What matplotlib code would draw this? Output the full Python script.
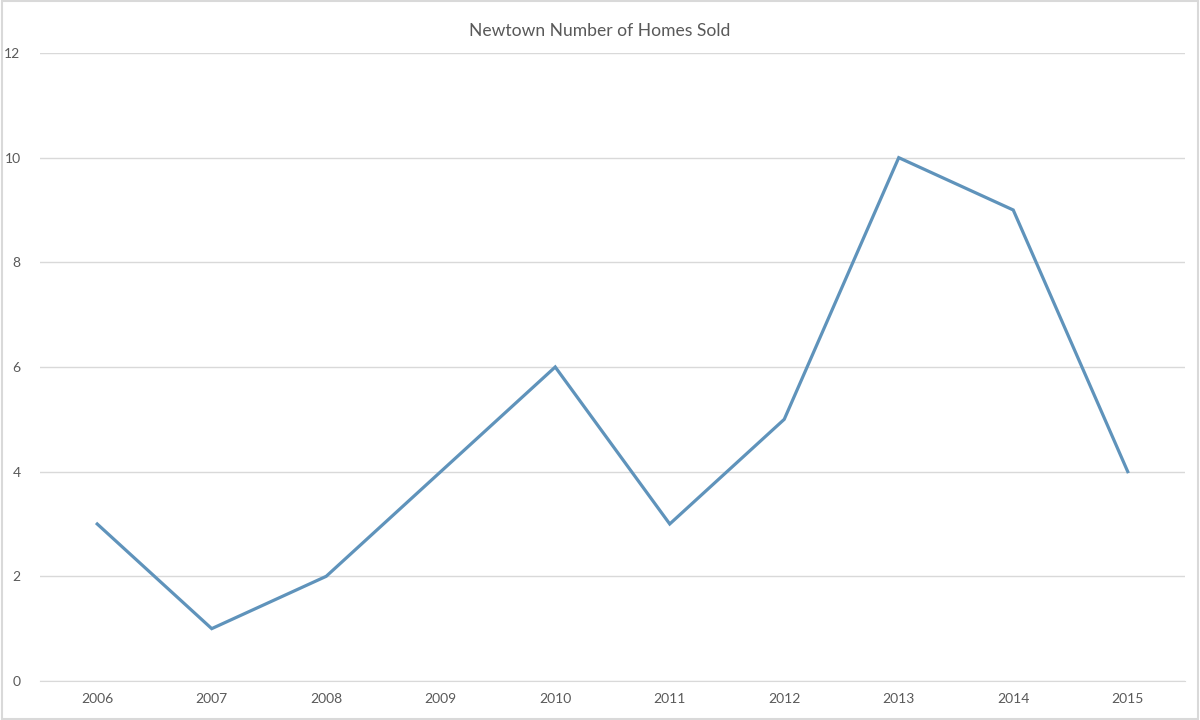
import matplotlib
matplotlib.use('Agg')
import matplotlib.pyplot as plt
from matplotlib.patches import Rectangle

plt.rcParams['font.family'] = ['Lato', 'DejaVu Sans']

# Data
years = ['2006', '2007', '2008', '2009', '2010', '2011', '2012', '2013', '2014', '2015']
homes_sold = [3, 1, 2, 4, 6, 3, 5, 10, 9, 4]

line_color = '#5f93bb'
text_color = '#595959'
grid_color = '#d9d9d9'

fig = plt.figure(figsize=(12, 7.2), dpi=100)
ax = fig.add_axes([0.0333, 0.0542, 0.9542, 0.8722])

x = list(range(len(years)))
ax.plot(x, homes_sold, color=line_color, linewidth=2.3, solid_joinstyle='miter')

ax.set_xlim(-0.5, len(years) - 0.5)
ax.set_ylim(0, 12)
ax.set_xticks(x)
ax.set_xticklabels(years)
ax.set_yticks(range(0, 13, 2))

ax.yaxis.grid(True, color=grid_color, linewidth=1)
ax.set_axisbelow(True)
for s in ax.spines.values():
    s.set_visible(False)
ax.spines['bottom'].set_visible(True)
ax.spines['bottom'].set_color(grid_color)
ax.tick_params(axis='both', length=0, colors=text_color, labelsize=10)
ax.tick_params(axis='x', pad=9)
ax.tick_params(axis='y', pad=14)

fig.suptitle('Newtown Number of Homes Sold', y=0.968, fontsize=12.6, color=text_color)

# light frame around the chart area
fig.patches.append(Rectangle((0.002, 0.002), 0.996, 0.996, transform=fig.transFigure,
                             fill=False, edgecolor=grid_color, linewidth=1.5))

fig.savefig('out.png', dpi=100)
